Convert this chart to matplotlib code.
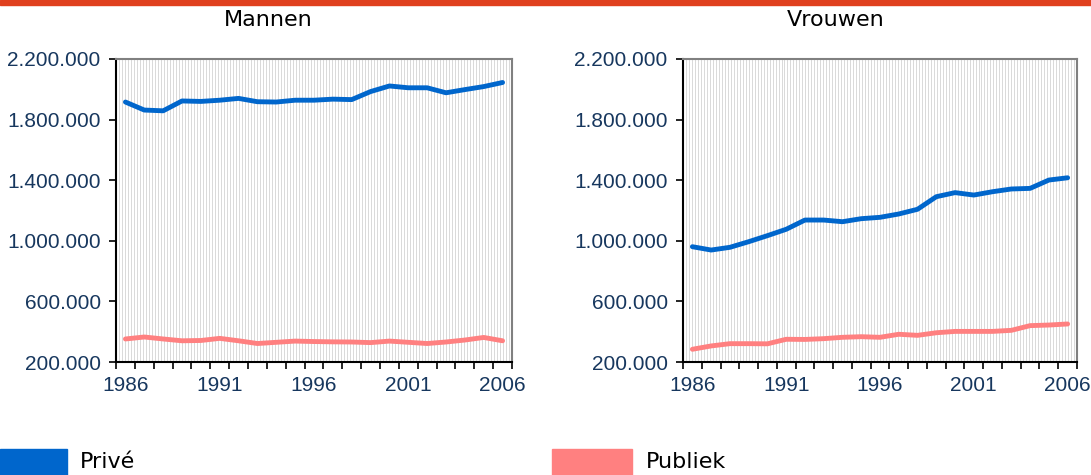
import matplotlib
matplotlib.use("Agg")
import matplotlib.pyplot as plt
import numpy as np
from matplotlib.patches import Rectangle
from matplotlib.ticker import FuncFormatter

# -----------------------------------------------------------------------------|
years = list(range(1986, 2007))
year_labels = ["1986", "1991", "1996", "2001", "2006"]

mannen_prive = [1916000, 1863000, 1858000, 1923000, 1920000, 1928000, 1940000,
                1918000, 1916000, 1928000, 1928000, 1935000, 1932000, 1985000,
                2022000, 2010000, 2010000, 1977000, 1998000, 2018000, 2045000]
mannen_publiek = [352000, 365000, 352000, 340000, 342000, 356000, 340000,
                  322000, 330000, 338000, 335000, 333000, 332000, 328000,
                  338000, 330000, 322000, 332000, 345000, 362000, 340000]
vrouwen_prive = [961000, 939000, 957000, 994000, 1034000, 1076000, 1137000,
                 1137000, 1126000, 1146000, 1155000, 1177000, 1208000, 1291000,
                 1318000, 1302000, 1324000, 1342000, 1346000, 1401000, 1416000]
vrouwen_publiek = [284000, 306000, 321000, 321000, 320000, 350000, 349000,
                   354000, 363000, 367000, 363000, 383000, 376000, 393000,
                   402000, 402000, 402000, 409000, 440000, 444000, 451000]

titles = ["Mannen", "Vrouwen"]
legend_labels = ["Privé", "Publiek"]

BLUE = "#0066CC"
PINK = "#FF8080"
NAVY = "#17375E"
TICKFONT = "Liberation Sans"


def dotted(v, pos):
    return "{:,.0f}".format(v).replace(",", ".")


def draw_panel(fig, rect, prive, publiek):
    ax = fig.add_axes(rect)
    n = len(years)
    x = np.arange(n)
    # fine vertical hatching of the plot area
    ax.vlines(np.linspace(-0.5, n - 0.5, 133), 200000, 2200000,
              color="#d9d9d9", lw=0.7, zorder=0)
    ax.plot(x, prive, color=BLUE, lw=3.5, solid_capstyle="round",
            solid_joinstyle="round", zorder=3)
    ax.plot(x, publiek, color=PINK, lw=3.5, solid_capstyle="round",
            solid_joinstyle="round", zorder=3)
    ax.set_xlim(-0.5, n - 0.5)
    ax.set_ylim(200000, 2200000)
    ax.set_yticks(np.arange(200000, 2200001, 400000))
    ax.yaxis.set_major_formatter(FuncFormatter(dotted))
    ax.set_xticks(np.arange(-0.5, n), labels=[""] * (n + 1))
    ax.set_xticks([years.index(int(y)) for y in year_labels],
                  labels=year_labels, minor=True)
    ax.tick_params(axis="x", which="major", direction="out", length=5,
                   width=1.2, color="black")
    ax.tick_params(axis="x", which="minor", length=0, pad=10,
                   labelsize=15, labelcolor=NAVY)
    ax.tick_params(axis="y", direction="out", length=5, width=1.2,
                   labelsize=15, labelcolor=NAVY, pad=6)
    for lab in ax.get_xticklabels(minor=True) + ax.get_yticklabels():
        lab.set_fontfamily(TICKFONT)
    for s in ["left", "bottom"]:
        ax.spines[s].set_color("black")
        ax.spines[s].set_linewidth(1.5)
    for s in ["top", "right"]:
        ax.spines[s].set_color("#808080")
        ax.spines[s].set_linewidth(1.5)
    return ax


def main():
    W, H = 1091, 475
    fig = plt.figure(figsize=(W / 100, H / 100), dpi=100)

    draw_panel(fig, [116 / W, 1 - 362 / H, 396 / W, 303 / H],
               mannen_prive, mannen_publiek)
    draw_panel(fig, [683 / W, 1 - 362 / H, 394 / W, 303 / H],
               vrouwen_prive, vrouwen_publiek)

    fig.text(268 / W, 1 - 20 / H, titles[0], ha="center", va="center",
             fontsize=16, color="black")
    fig.text(836 / W, 1 - 20 / H, titles[1], ha="center", va="center",
             fontsize=16, color="black")

    # red strip along the top edge
    fig.patches.append(Rectangle((0, 1 - 5 / H), 1, 5 / H, color="#E0401E",
                                 transform=fig.transFigure, figure=fig))

    # legend
    fig.patches.append(Rectangle((0, 0), 67 / W, 26 / H, color=BLUE,
                                 transform=fig.transFigure, figure=fig))
    fig.patches.append(Rectangle((552 / W, 0), 80 / W, 26 / H, color=PINK,
                                 transform=fig.transFigure, figure=fig))
    fig.text(80 / W, 1 - 462 / H, legend_labels[0], ha="left", va="center",
             fontsize=16)
    fig.text(646 / W, 1 - 462 / H, legend_labels[1], ha="left", va="center",
             fontsize=16)

    fig.savefig("out.png", dpi=100)
# -----------------------------------------------------------------------------|


if __name__ == '__main__':
    main()
